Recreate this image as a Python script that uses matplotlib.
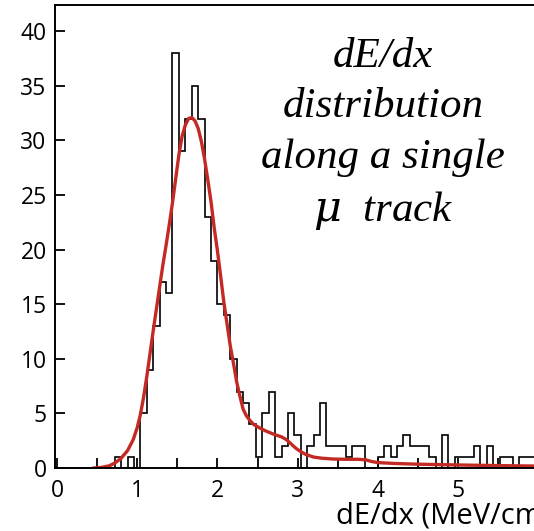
import numpy as np
import matplotlib
matplotlib.use("Agg")
import matplotlib.pyplot as plt
from matplotlib.ticker import MultipleLocator

# ---- histogram: counts per 0.08 MeV/cm bin, starting at 0 ----
bin_width = 0.08
counts = [0, 0, 0, 0, 0, 0, 0, 0, 0, 1,
          0, 1, 0, 5, 9, 13, 17, 16, 38, 29,
          32, 35, 32, 23, 19, 15, 14, 10, 7, 6,
          4, 1, 5, 7, 1, 2, 5, 3, 0, 2,
          3, 6, 2, 2, 2, 1, 2, 2, 0, 0,
          1, 2, 1, 2, 3, 2, 2, 2, 1, 0,
          3, 0, 1, 1, 1, 2, 0, 2, 0, 1,
          1, 0, 1, 1, 1, 1]

# ---- fitted curve (dE/dx, entries) ----
fit_x = [0.45, 0.55, 0.65, 0.72, 0.80, 0.88, 0.95, 1.00, 1.04, 1.08,
         1.12, 1.16, 1.20, 1.24, 1.28, 1.32, 1.36, 1.40, 1.44, 1.48,
         1.52, 1.56, 1.60, 1.64, 1.68, 1.72, 1.76, 1.80, 1.84, 1.88,
         1.92, 1.96, 2.00, 2.04, 2.08, 2.12, 2.16, 2.20, 2.24, 2.28,
         2.32, 2.36, 2.40, 2.45, 2.52, 2.60, 2.70, 2.80, 2.86, 2.92,
         2.98, 3.04, 3.10, 3.20, 3.30, 3.45, 3.60, 3.75, 3.85, 3.92,
         4.00, 4.20, 4.50, 5.00, 5.50, 6.10]
fit_y = [0.0, 0.05, 0.2, 0.45, 0.9, 1.6, 2.6, 3.7, 4.9, 6.5,
         8.4, 10.5, 12.6, 14.6, 16.6, 18.6, 20.4, 22.3, 24.3, 26.5,
         28.7, 30.4, 31.4, 32.0, 32.1, 31.8, 31.1, 29.9, 28.3, 26.4,
         24.4, 22.0, 19.9, 17.6, 15.2, 13.2, 11.2, 9.6, 7.9, 6.6,
         5.4, 4.8, 4.4, 4.0, 3.7, 3.4, 3.1, 2.85, 2.6, 2.2,
         1.8, 1.5, 1.25, 1.0, 0.9, 0.82, 0.8, 0.8, 0.75, 0.6,
         0.5, 0.42, 0.35, 0.28, 0.22, 0.17]

x_ticks = [0, 1, 2, 3, 4, 5]
y_ticks = [0, 5, 10, 15, 20, 25, 30, 35, 40]
note = "dE/dx\ndistribution\nalong a single\n$\\mu$  track"

edges = np.arange(len(counts) + 1) * bin_width

fig = plt.figure(figsize=(5.34, 5.31), dpi=100)
ax = fig.add_axes([0.103, 0.1186, 0.98, 0.872])

ax.stairs(counts, edges, color="black", linewidth=1.2)
ax.plot(fit_x, fit_y, color="#c42a24", linewidth=2.4, solid_capstyle="round")

ax.set_xlim(-0.025, 6.5)
ax.set_ylim(0, 42.4)
ax.set_xticks(x_ticks)
ax.set_yticks(y_ticks)
ax.xaxis.set_minor_locator(MultipleLocator(0.5))

for s in ax.spines.values():
    s.set_linewidth(1.4)

ax.tick_params(axis="both", which="both", direction="in", length=7,
               width=1.3, top=False, right=False, labelsize=16.5)
ax.tick_params(axis="x", pad=8)
ax.tick_params(axis="y", pad=6)
for lbl in ax.get_xticklabels() + ax.get_yticklabels():
    lbl.set_fontfamily("Open Sans")

# axis title runs off the right edge of the figure
fig.text(336 / 534, 1 - 516 / 531, "dE/dx (MeV/cm)", fontsize=21,
         family="Open Sans", ha="left", va="center")

ax.text((383 - 55) / 523, 1 - 130 / 463, note, transform=ax.transAxes,
        ha="center", va="center", fontsize=31, family="Liberation Serif",
        style="italic", linespacing=1.4,
        math_fontfamily="dejavuserif")

fig.savefig("out.png", dpi=100)
